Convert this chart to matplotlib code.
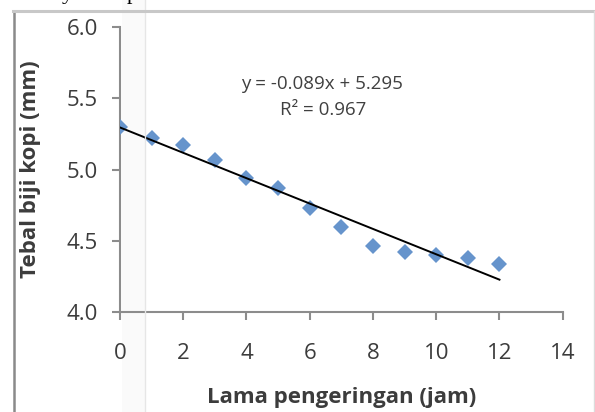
import matplotlib.pyplot as plt
import numpy as np

# Lama pengeringan (jam) vs tebal biji kopi (mm)
lama_jam = [0, 1, 2, 3, 4, 5, 6, 7, 8, 9, 10, 11, 12]
tebal_mm = [5.30, 5.22, 5.17, 5.07, 4.94, 4.87, 4.73, 4.60, 4.46, 4.42, 4.40, 4.38, 4.34]

# linear trendline as reported on the chart
slope = -0.089
intercept = 5.295
r2 = 0.967

x_ticks = [0, 2, 4, 6, 8, 10, 12, 14]
y_ticks = [4.0, 4.5, 5.0, 5.5, 6.0]

plt.rcParams['font.family'] = ['Open Sans', 'DejaVu Sans']

fig = plt.figure(figsize=(5.95, 4.12), dpi=100)
W, H = 595, 412


def fig_line(xs, ys, **kw):
    # line in pixel coordinates of the figure (origin top-left)
    fig.lines.append(plt.Line2D([x / W for x in xs], [1 - y / H for y in ys],
                                transform=fig.transFigure, **kw))


# faint page column band behind the chart
fig.patches.append(plt.Rectangle((122 / W, 0), 23 / W, 1.0, transform=fig.transFigure,
                                 facecolor='#fafafa', edgecolor='none', zorder=-1))
fig_line([145, 145], [0, H], color='#e6e6e6', linewidth=1.0, zorder=0)

# chart frame
fig_line([13.5, 13.5], [11, H], color='#8a8a8a', linewidth=1.8, zorder=1)
fig_line([13, 594], [11, 11], color='#c8c8c8', linewidth=2.2, zorder=1)
fig_line([594, 594], [11, H], color='#dcdcdc', linewidth=1.0, zorder=1)

# bits of the text line above the chart
fig.text(62 / W, 1.0 + 1 / H, 'y', family='Liberation Serif', fontsize=16,
         va='baseline', ha='left', color='black')
fig.text(127 / W, 1.0 + 1 / H, 'p', family='Liberation Serif', fontsize=16,
         va='baseline', ha='left', color='black')

ax = fig.add_axes([120 / W, 1 - 312 / H, 442.7 / W, 285 / H])
ax.patch.set_alpha(0)

ax.plot(lama_jam, tebal_mm, linestyle='none', marker='D', markersize=8.6,
        color='#6694cc', markeredgewidth=0, zorder=3)

xf = np.array([lama_jam[0], lama_jam[-1]])
ax.plot(xf, slope * xf + intercept, color='black', linewidth=1.4, zorder=4)

ax.set_xlim(0, 14)
ax.set_ylim(4.0, 6.0)
ax.set_xticks(x_ticks)
ax.set_yticks(y_ticks)
ax.set_xticklabels([str(t) for t in x_ticks])
ax.set_yticklabels([f'{t:.1f}' for t in y_ticks])

for side in ['top', 'right']:
    ax.spines[side].set_visible(False)
for side in ['left', 'bottom']:
    ax.spines[side].set_color('#8c8c8c')
    ax.spines[side].set_linewidth(1.5)

ax.tick_params(axis='both', direction='out', length=6, width=1.5,
               color='#8c8c8c', labelsize=16, labelcolor='#3c3c3c')
ax.tick_params(axis='x', pad=16)
ax.tick_params(axis='y', pad=10)

ax.set_xlabel('Lama pengeringan (jam)', fontsize=16, fontweight='bold',
              color='#3c3c3c', va='center')
ax.xaxis.set_label_coords(0.5, (312 - 398) / 285)
ax.set_ylabel('Tebal biji kopi (mm)', fontsize=16, fontweight='bold',
              color='#3c3c3c', va='center')
ax.yaxis.set_label_coords((31 - 120) / 442.7, 0.5)

ax.text(322 / W, 1 - 84 / H, f'y = {slope}x + {intercept}', transform=fig.transFigure,
        ha='center', va='center', fontsize=13.5, color='#404040')
ax.text(323 / W, 1 - 110 / H, f'R² = {r2}', transform=fig.transFigure,
        ha='center', va='center', fontsize=13.5, color='#404040')

fig.savefig('out.png', dpi=100)
plt.close(fig)
